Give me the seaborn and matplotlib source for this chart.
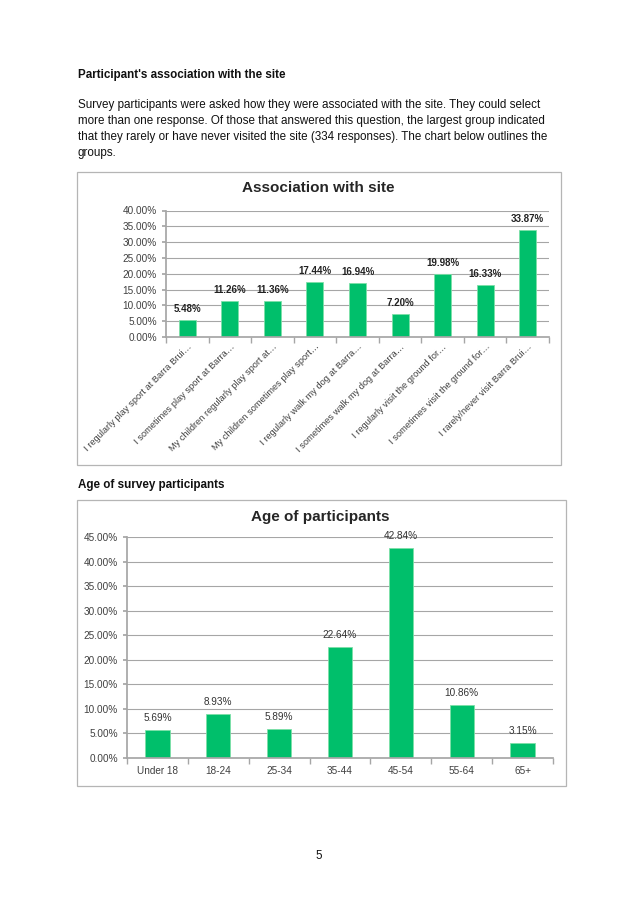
import matplotlib
matplotlib.use("Agg")
import matplotlib.pyplot as plt
import seaborn as sns
from matplotlib.patches import Rectangle
from matplotlib.ticker import PercentFormatter, FixedLocator

# chart 1 data
assoc_labels = [
    "I regularly play sport at Barra Brui\u2026",
    "I sometimes play sport at Barra\u2026",
    "My children regularly play sport at\u2026",
    "My children sometimes play sport\u2026",
    "I regularly walk my dog at Barra\u2026",
    "I sometimes walk my dog at Barra\u2026",
    "I regularly visit the ground for\u2026",
    "I sometimes visit the ground for\u2026",
    "I rarely/never visit Barra Brui\u2026",
]
assoc_values = [0.0548, 0.1126, 0.1136, 0.1744, 0.1694, 0.0720, 0.1998, 0.1633, 0.3387]

# chart 2 data
age_labels = ["Under 18", "18-24", "25-34", "35-44", "45-54", "55-64", "65+"]
age_values = [0.0569, 0.0893, 0.0589, 0.2264, 0.4284, 0.1086, 0.0315]

W, H = 638, 900
GREEN = "#00BF6B"
GRID = "#a6a6a6"
TICK = "#404040"

sns.set_theme(style="white")
plt.rcParams["font.family"] = ["Liberation Sans", "DejaVu Sans"]

fig = plt.figure(figsize=(W / 100, H / 100), dpi=100)
fig.patch.set_facecolor("white")


def px(x, y):
    return x / W, 1 - y / H


def box(x0, y0, x1, y1):
    fig.patches.append(Rectangle(px(x0, y1), (x1 - x0) / W, (y1 - y0) / H,
                                 transform=fig.transFigure, fill=False,
                                 edgecolor="#b5b5b5", linewidth=0.9))


def axes_at(left, top, right, bottom):
    return fig.add_axes([left / W, 1 - bottom / H, (right - left) / W, (bottom - top) / H])


def style_axis(ax, ymax, step, n):
    ax.set_ylim(0, ymax)
    ax.set_xlim(-0.5, n - 0.5)
    ax.yaxis.set_major_locator(FixedLocator([i * step for i in range(int(round(ymax / step)) + 1)]))
    ax.yaxis.set_major_formatter(PercentFormatter(1, decimals=2))
    ax.grid(axis="y", color=GRID, linewidth=0.8)
    ax.set_axisbelow(True)
    for s in ["top", "right"]:
        ax.spines[s].set_visible(False)
    ax.spines["left"].set_color(GRID)
    ax.spines["bottom"].set_color(GRID)
    ax.set_xlabel("")
    ax.set_ylabel("")
    ax.xaxis.set_minor_locator(FixedLocator([i - 0.5 for i in range(n + 1)]))
    ax.tick_params(axis="x", which="minor", length=4, color=GRID, bottom=True)
    ax.tick_params(axis="x", which="major", length=0, colors=TICK)
    ax.tick_params(axis="y", length=3, color=GRID, left=True, colors=TICK, labelsize=7.2)


# page text
fig.text(*px(78, 75), "Participant's association with the site", fontsize=8.4,
         fontweight="bold", va="center", color="#111111")
para = [
    "Survey participants were asked how they were associated with the site. They could select",
    "more than one response. Of those that answered this question, the largest group indicated",
    "that they rarely or have never visited the site (334 responses). The chart below outlines the",
    "groups.",
]
for i, line in enumerate(para):
    fig.text(*px(78, 105 + i * 16), line, fontsize=8.4, va="center", color="#111111")
fig.text(*px(78, 485), "Age of survey participants", fontsize=8.4,
         fontweight="bold", va="center", color="#111111")
fig.text(*px(319, 856), "5", fontsize=8.4, va="center", ha="center", color="#111111")

# chart 1
box(77, 172, 561, 465)
fig.text(*px(318, 188), "Association with site", fontsize=11, fontweight="bold",
         ha="center", va="center")
ax1 = axes_at(166, 210.5, 549, 337)
sns.barplot(x=assoc_labels, y=assoc_values, color=GREEN, width=0.4, ax=ax1,
            edgecolor="#7de0a8", linewidth=0.6, saturation=1)
style_axis(ax1, 0.40, 0.05, len(assoc_labels))
ax1.set_xticks(range(len(assoc_labels)))
ax1.set_xticklabels(assoc_labels, rotation=45, ha="right", rotation_mode="anchor",
                    fontsize=6.7, color=TICK)
for i, v in enumerate(assoc_values):
    ax1.annotate(f"{v * 100:.2f}%", (i, v), xytext=(0, 8), textcoords="offset points",
                 ha="center", va="center", fontsize=7, fontweight="bold", color="#222222")

# chart 2
box(77, 500, 566, 786)
fig.text(*px(320, 517), "Age of participants", fontsize=11, fontweight="bold",
         ha="center", va="center")
ax2 = axes_at(127, 537, 553, 758)
sns.barplot(x=age_labels, y=age_values, color=GREEN, width=0.4, ax=ax2,
            edgecolor="#7de0a8", linewidth=0.6, saturation=1)
style_axis(ax2, 0.45, 0.05, len(age_labels))
ax2.set_xticks(range(len(age_labels)))
ax2.set_xticklabels(age_labels, fontsize=7.2, color=TICK)
ax2.tick_params(axis="x", which="major", pad=6)
for i, v in enumerate(age_values):
    ax2.annotate(f"{v * 100:.2f}%", (i, v), xytext=(0, 8.6), textcoords="offset points",
                 ha="center", va="center", fontsize=7.2, color="#333333")

fig.savefig("out.png", dpi=100, facecolor="white")
